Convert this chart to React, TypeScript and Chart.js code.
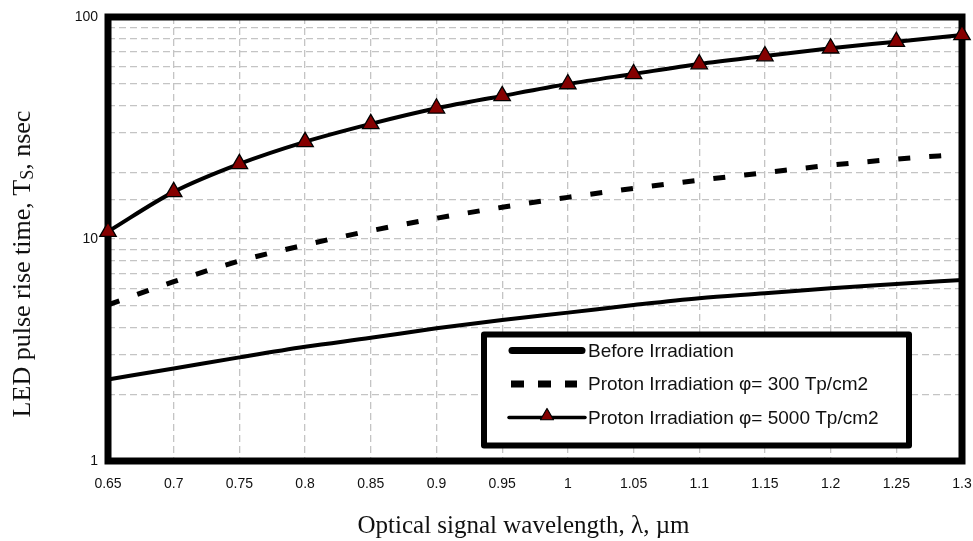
import React, { useEffect, useRef } from 'react';
import { Chart, registerables } from 'chart.js';

Chart.register(...registerables);

// ---- data ----
const wavelengths = [0.65, 0.7, 0.75, 0.8, 0.85, 0.9, 0.95, 1.0, 1.05, 1.1, 1.15, 1.2, 1.25, 1.3];
const beforeIrradiation = [2.33, 2.61, 2.93, 3.27, 3.59, 3.96, 4.32, 4.66, 5.04, 5.41, 5.69, 6.0, 6.27, 6.54];
const proton300 = [5.05, 6.42, 7.96, 9.4, 10.9, 12.4, 13.9, 15.4, 16.9, 18.4, 19.9, 21.5, 22.9, 24.1];
const proton5000 = [10.8, 16.3, 21.8, 27.4, 33.0, 38.8, 44.1, 49.9, 55.4, 61.4, 66.7, 72.3, 77.4, 83.0];
const seriesLabels = [
  'Before Irradiation',
  'Proton Irradiation φ= 300 Tp/cm2',
  'Proton Irradiation φ= 5000 Tp/cm2',
];
const yTickLabels = [1, 10, 100];
const xTitle = 'Optical signal wavelength, λ, µm';
const yTitleParts = ['LED pulse rise time, T', 'S', ', nsec'];

const SANS = '"Liberation Sans", Arial, sans-serif';
const SERIF = '"Liberation Serif", "Times New Roman", serif';
const MARKER_FILL = '#850000';

const toPoints = (ys: number[]) => wavelengths.map((x, i) => ({ x, y: ys[i] }));

const framePlugin = {
  id: 'frame',
  beforeDatasetsDraw(chart: any) {
    const { ctx, chartArea } = chart;
    const { left, top, right, bottom } = chartArea;
    ctx.save();
    ctx.lineWidth = 7;
    ctx.strokeStyle = '#000';
    ctx.strokeRect(left, top, right - left, bottom - top);
    ctx.restore();
  },
};

const drawTriangle = (ctx: CanvasRenderingContext2D, x: number, y: number, r: number) => {
  ctx.beginPath();
  let a = 0;
  ctx.moveTo(x + Math.sin(a) * r, y - Math.cos(a) * r);
  a += (2 * Math.PI) / 3;
  ctx.lineTo(x + Math.sin(a) * r, y - Math.cos(a) * r);
  a += (2 * Math.PI) / 3;
  ctx.lineTo(x + Math.sin(a) * r, y - Math.cos(a) * r);
  ctx.closePath();
  ctx.fillStyle = MARKER_FILL;
  ctx.fill();
  ctx.lineWidth = 1.2;
  ctx.strokeStyle = '#000';
  ctx.stroke();
};

const legendPlugin = {
  id: 'boxLegend',
  afterDatasetsDraw(chart: any) {
    const { ctx, chartArea } = chart;
    const bw = 425;
    const bh = 111;
    const bx1 = chartArea.right - bw - 53;
    const by1 = chartArea.bottom - bh - 15.5;
    ctx.save();
    ctx.fillStyle = '#fff';
    ctx.fillRect(bx1, by1, bw, bh);
    ctx.lineWidth = 6;
    ctx.lineJoin = 'round';
    ctx.strokeStyle = '#000';
    ctx.strokeRect(bx1, by1, bw, bh);

    const sx1 = bx1 + 25;
    const sx2 = bx1 + 101;
    const tx = bx1 + 104;
    const rows = [by1 + 16, by1 + 49.5, by1 + 83];

    // row 1: thick solid
    ctx.beginPath();
    ctx.lineCap = 'round';
    ctx.lineWidth = 7;
    ctx.moveTo(sx1 + 3, rows[0]);
    ctx.lineTo(sx2 - 3, rows[0]);
    ctx.stroke();

    // row 2: dashed squares
    ctx.beginPath();
    ctx.lineCap = 'butt';
    ctx.lineWidth = 7;
    ctx.setLineDash([13, 14]);
    ctx.moveTo(sx1 + 2, rows[1]);
    ctx.lineTo(sx2 - 8, rows[1]);
    ctx.stroke();
    ctx.setLineDash([]);

    // row 3: thin line with triangle
    ctx.beginPath();
    ctx.lineCap = 'round';
    ctx.lineWidth = 3.5;
    ctx.moveTo(sx1, rows[2]);
    ctx.lineTo(sx2, rows[2]);
    ctx.stroke();
    drawTriangle(ctx, (sx1 + sx2) / 2, rows[2] - 1.5, 7.5);

    ctx.fillStyle = '#111';
    ctx.font = `19px ${SANS}`;
    ctx.textBaseline = 'middle';
    ctx.textAlign = 'left';
    seriesLabels.forEach((t, i) => ctx.fillText(t, tx, rows[i] + 1));
    ctx.restore();
  },
};

const titlesPlugin = {
  id: 'axisTitles',
  afterDraw(chart: any) {
    const { ctx } = chart;
    ctx.save();
    ctx.fillStyle = '#111';
    // x title
    ctx.font = `25px ${SERIF}`;
    ctx.textAlign = 'center';
    ctx.textBaseline = 'alphabetic';
    ctx.fillText(xTitle, 523.5, 533);

    // y title with subscript, rotated
    const mainFont = `26px ${SERIF}`;
    const subFont = `18px ${SERIF}`;
    ctx.font = mainFont;
    const w0 = ctx.measureText(yTitleParts[0]).width;
    const w2 = ctx.measureText(yTitleParts[2]).width;
    ctx.font = subFont;
    const w1 = ctx.measureText(yTitleParts[1]).width;
    const total = w0 + w1 + w2;
    ctx.translate(30, 264);
    ctx.rotate(-Math.PI / 2);
    ctx.textAlign = 'left';
    let x = -total / 2;
    ctx.font = mainFont;
    ctx.fillText(yTitleParts[0], x, 0);
    x += w0;
    ctx.font = subFont;
    ctx.fillText(yTitleParts[1], x, 3);
    x += w1;
    ctx.font = mainFont;
    ctx.fillText(yTitleParts[2], x, 0);
    ctx.restore();
  },
};

export default function App() {
  const canvasRef = useRef<HTMLCanvasElement | null>(null);

  useEffect(() => {
    const canvas = canvasRef.current;
    if (!canvas) return;
    const isDecade = (v: number) => {
      const l = Math.log10(v);
      return Math.abs(l - Math.round(l)) < 1e-9;
    };
    const chart = new Chart(canvas, {
      type: 'line',
      data: {
        datasets: [
          {
            label: seriesLabels[0],
            data: toPoints(beforeIrradiation),
            borderColor: '#000',
            borderWidth: 4,
            pointRadius: 0,
            cubicInterpolationMode: 'monotone',
            clip: false,
          },
          {
            label: seriesLabels[1],
            data: toPoints(proton300),
            borderColor: '#000',
            borderWidth: 5,
            borderDash: [12, 19],
            pointRadius: 0,
            cubicInterpolationMode: 'monotone',
            clip: false,
          },
          {
            label: seriesLabels[2],
            data: toPoints(proton5000),
            borderColor: '#000',
            borderWidth: 4,
            pointStyle: 'triangle',
            pointRadius: 9.5,
            pointBackgroundColor: MARKER_FILL,
            pointBorderColor: '#000',
            pointBorderWidth: 1.3,
            cubicInterpolationMode: 'monotone',
            clip: false,
          },
        ] as any,
      },
      options: {
        animation: false,
        responsive: false,
        maintainAspectRatio: false,
        layout: { padding: { left: 0, right: 11, top: 17, bottom: 0 } },
        plugins: {
          legend: { display: false },
          tooltip: { enabled: false },
        },
        scales: {
          x: {
            type: 'linear',
            min: 0.65,
            max: 1.3,
            ticks: {
              stepSize: 0.05,
              padding: 15,
              autoSkip: false,
              maxRotation: 0,
              color: '#111',
              font: { family: SANS, size: 14 },
              callback: (v: any) => String(Number(Number(v).toFixed(2))),
            },
            grid: { color: '#c4c4c4', lineWidth: 1.3, drawTicks: false },
            border: { display: false, dash: [7, 4] },
            afterFit: (s: any) => {
              s.height = 80;
              s.paddingLeft = 0;
              s.paddingRight = 0;
            },
          },
          y: {
            type: 'logarithmic',
            min: 1,
            max: 100,
            ticks: {
              padding: 10,
              autoSkip: false,
              color: '#111',
              font: { family: SANS, size: 14 },
              callback: (v: any) => {
                const n = Number(v);
                return isDecade(n) && yTickLabels.includes(Math.round(n)) ? String(Math.round(n)) : '';
              },
            },
            grid: { color: '#c4c4c4', lineWidth: 1.3, drawTicks: false },
            border: { display: false, dash: [7, 4] },
            afterFit: (s: any) => {
              s.width = 108;
              s.paddingTop = 0;
              s.paddingBottom = 0;
            },
          },
        },
      } as any,
      plugins: [framePlugin, legendPlugin, titlesPlugin],
    });
    return () => chart.destroy();
  }, []);

  return (
    <div style={{ position: 'fixed', left: 0, top: 0, width: 973, height: 541, background: '#fff' }}>
      <canvas ref={canvasRef} width={973} height={541} style={{ display: 'block', width: 973, height: 541 }} />
    </div>
  );
}
